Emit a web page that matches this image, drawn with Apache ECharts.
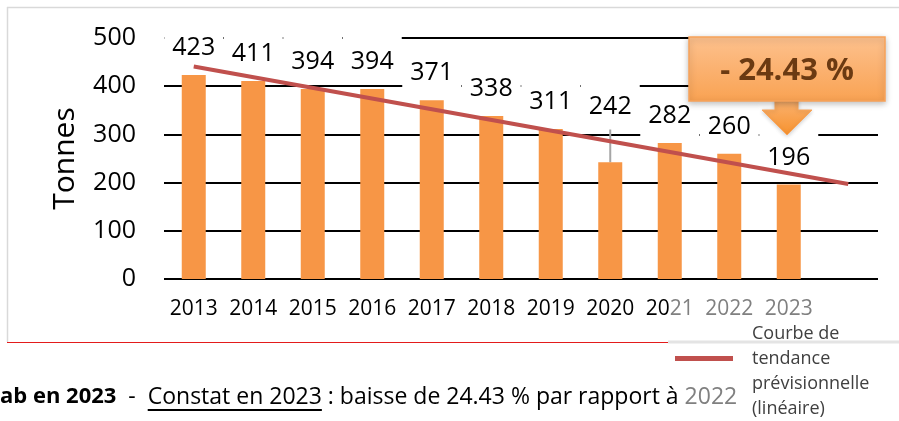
<!DOCTYPE html>
<html>
<head>
<meta charset="utf-8">
<script src="https://cdn.jsdelivr.net/npm/echarts@6/dist/echarts.min.js"></script>
<style>
  html, body { margin: 0; padding: 0; background: #fff; }
  #chart { width: 899px; height: 421px; }
</style>
</head>
<body>
<div id="chart"></div>
<script>
// categories (the last slot is empty, the trend line runs into it)
var years = ['2013', '2014', '2015', '2016', '2017', '2018', '2019', '2020', '2021', '2022', '2023', ''];
// tonnes per year
var tonnes = [423, 411, 394, 394, 371, 338, 311, 242, 282, 260, 196];
// linear trend line read at both ends (first and last category)
var trendEnds = [441, 197];
var trendName = 'Courbe de\ntendance\nprévisionnelle\n(linéaire)';
var calloutText = '- 24.43 %';
var footerParts = ['ab en 2023', '  -  ', 'Constat en 2023', ' : baisse de 24.43 % par rapport à ', '2022'];

var FONT = '"Open Sans", "Liberation Sans", sans-serif';

// measure footer pieces so the underline sits under "Constat en 2023"
function textWidth(txt, font) {
    var ctx = document.createElement('canvas').getContext('2d');
    ctx.font = font;
    return ctx.measureText(txt).width;
}
var fBold = 'bold 22px ' + FONT;
var fNorm = '23px ' + FONT;
var ulStart = textWidth(footerParts[0], fBold) + textWidth(footerParts[1], fNorm);
var ulEnd = ulStart + textWidth(footerParts[2], fNorm);

var chart = echarts.init(document.getElementById('chart'));

var barData = tonnes.map(function (v, i) {
    // 2020 label sits higher, with a grey leader line down to its bar
    if (i === 7) {
        return { value: v, labelLine: { show: true, lineStyle: { color: '#a6a6a6', width: 2 } } };
    }
    return v;
});

var option = {
    animation: false,
    textStyle: { fontFamily: FONT },
    grid: { left: 164, right: 21, top: 38, bottom: 142 },
    legend: {
        data: [trendName],
        left: 675,
        top: 296,
        padding: 0,
        icon: 'rect',
        itemWidth: 58,
        itemHeight: 5,
        // blank first line pushes the text down against the line icon
        formatter: function (name) { return '\n' + name; },
        textStyle: {
            fontSize: 18,
            color: '#404040',
            lineHeight: 25,
            padding: [0, 0, 0, 14]
        }
    },
    xAxis: {
        type: 'category',
        data: years,
        axisLine: { show: false },
        axisTick: { show: false },
        axisLabel: {
            margin: 20,
            interval: 0,
            formatter: function (value, index) {
                if (index === 8) return '{k|' + value.slice(0, 2) + '}{g|' + value.slice(2) + '}';
                if (index > 8) return '{g|' + value + '}';
                return '{k|' + value + '}';
            },
            rich: {
                k: { fontSize: 21, color: '#000', fontFamily: FONT },
                g: { fontSize: 21, color: '#808080', fontFamily: FONT }
            }
        }
    },
    yAxis: {
        type: 'value',
        min: 0,
        max: 500,
        interval: 100,
        name: 'Tonnes',
        nameLocation: 'middle',
        nameRotate: 90,
        nameGap: 84,
        nameTextStyle: { fontSize: 30, color: '#000' },
        axisLine: { show: false },
        axisTick: { show: false },
        axisLabel: { fontSize: 25, color: '#000', margin: 28 },
        splitLine: { lineStyle: { color: '#000', width: 2 } }
    },
    series: [
        {
            name: 'Tonnes',
            type: 'bar',
            data: barData,
            barWidth: 24,
            z: 2,
            itemStyle: { color: '#F79646' },
            label: {
                show: true,
                position: 'top',
                distance: 5,
                fontSize: 25,
                color: '#000',
                backgroundColor: '#fff',
                width: 59,
                align: 'center',
                lineHeight: 26,
                padding: [13, 0, 9, 0]
            },
            labelLayout: function (p) {
                if (p.dataIndex === 7) return { dy: -28 };
            }
        },
        {
            name: trendName,
            type: 'line',
            data: [[0, trendEnds[0]], [years.length - 1, trendEnds[1]]],
            symbol: 'none',
            z: 5,
            itemStyle: { color: '#C0504D' },
            lineStyle: { color: '#C0504D', width: 4 }
        }
    ],
    graphic: [
        // frame
        { type: 'line', z: 1, shape: { x1: 7, y1: 7.5, x2: 899, y2: 7.5 }, style: { stroke: '#d9d9d9', lineWidth: 1.5 } },
        { type: 'line', z: 1, shape: { x1: 7.5, y1: 7, x2: 7.5, y2: 342 }, style: { stroke: '#d9d9d9', lineWidth: 1.5 } },
        { type: 'line', z: 1, shape: { x1: 7, y1: 342.5, x2: 668, y2: 342.5 }, style: { stroke: '#e31b1b', lineWidth: 1.2 } },
        { type: 'line', z: 1, shape: { x1: 668, y1: 342, x2: 899, y2: 342 }, style: { stroke: '#e4e4e4', lineWidth: 3 } },
        // callout arrow
        {
            type: 'polygon', z: 99,
            shape: { points: [[775, 98], [798, 98], [798, 110], [812, 110], [787, 135], [762, 110], [775, 110]] },
            style: {
                fill: new echarts.graphic.LinearGradient(0, 0, 0, 1, [
                    { offset: 0, color: '#fbb474' },
                    { offset: 1, color: '#f7922e' }
                ]),
                stroke: '#f9a55a', lineWidth: 1,
                shadowBlur: 4, shadowColor: 'rgba(0,0,0,0.2)', shadowOffsetY: 1
            }
        },
        // callout box
        {
            type: 'rect', z: 100,
            shape: { x: 689, y: 37, width: 196, height: 64 },
            style: {
                fill: new echarts.graphic.LinearGradient(0, 0, 0, 1, [
                    { offset: 0, color: '#fdc18e' },
                    { offset: 1, color: '#f9a252' }
                ]),
                stroke: '#f7a25a', lineWidth: 1.5,
                shadowBlur: 6, shadowColor: 'rgba(0,0,0,0.25)', shadowOffsetY: 2
            }
        },
        {
            type: 'text', z: 101,
            x: 787, y: 71,
            style: {
                text: calloutText,
                fill: '#6b3a12',
                font: 'bold 31px ' + FONT,
                align: 'center',
                verticalAlign: 'middle'
            }
        },
        // footer sentence
        {
            type: 'text', z: 10,
            x: 0, y: 397,
            style: {
                text: '{b|' + footerParts[0] + '}{n|' + footerParts[1] + footerParts[2] + footerParts[3] + '}{g|' + footerParts[4] + '}',
                verticalAlign: 'middle',
                rich: {
                    b: { font: fBold, fill: '#000' },
                    n: { font: fNorm, fill: '#000' },
                    g: { font: fNorm, fill: '#808080' }
                }
            }
        },
        { type: 'line', z: 10, shape: { x1: ulStart, y1: 410, x2: ulEnd, y2: 410 }, style: { stroke: '#000', lineWidth: 2 } }
    ]
};

chart.setOption(option);
</script>
</body>
</html>
